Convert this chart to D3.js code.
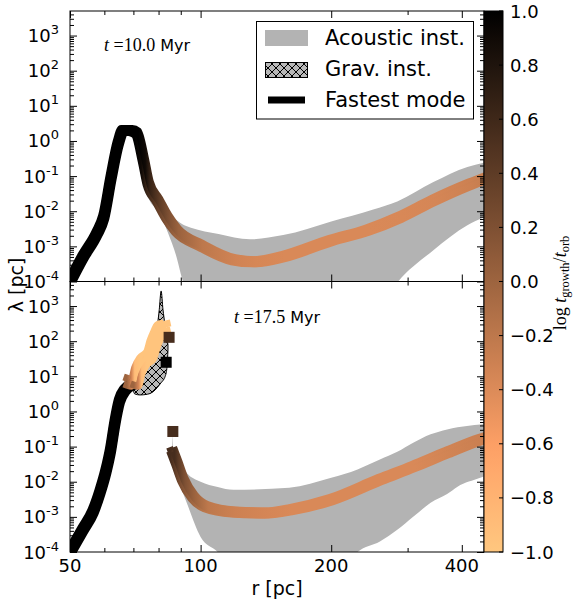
<!DOCTYPE html>
<html>
<head>
<meta charset="utf-8">
<script src="https://d3js.org/d3.v7.min.js"></script>
<style>
    body {
        margin: 0;
        background-color: white;
    }

    svg {
        display: block;
        font-family: "DejaVu Sans", sans-serif;
    }
</style>
</head>
<body>
<svg></svg>
<script>
    // x axis / colour bar ticks
    const xTicks = [50, 100, 200, 400];
    const xMinorTicks = [60, 70, 80, 90, 300];
    const cbTicks = [1.0, 0.8, 0.6, 0.4, 0.2, 0.0, -0.2, -0.4, -0.6, -0.8, -1.0];
    const yExponents = [-4, -3, -2, -1, 0, 1, 2, 3];

    // t = 10.0 Myr : fastest mode [r pc, log10 lambda, log tgrowth/torb]
    const modeTop = [
        [50, -4, 1.2], [53.5, -3.31, 1.2], [57.7, -2.63, 1.2], [59.8, -2.17, 1.2], [62.2, -1.03, 1.2],
        [64.6, -0.06, 1.2], [66.3, 0.3, 1.2], [68.9, 0.3, 1.2], [71.1, 0.23, 1.2], [73.8, -0.54, 0.9],
        [75.7, -1.2, 0.65], [79.6, -1.69, 0.4], [83.6, -2.17, 0.2], [88, -2.55, 0.02], [100, -2.97, -0.2],
        [119, -3.38, -0.32], [133, -3.44, -0.36], [155, -3.29, -0.38], [200, -2.83, -0.38], [242, -2.54, -0.38],
        [288, -2.17, -0.37], [344, -1.69, -0.35], [412, -1.26, -0.3], [449, -1.08, -0.25]
    ];
    // acoustic instability band [r, log10 lambda low, log10 lambda high]
    const acousticTop = [
        [75, -1.45, -1.4], [76, -1.65, -1.55], [80, -2.0, -1.75], [84, -2.6, -2.0], [88, -3.3, -2.25],
        [91, -4.0, -2.38], [95, -4.6, -2.47], [110, -5, -2.65], [130, -5, -2.8], [155, -5, -2.68],
        [200, -5, -2.29], [250, -5, -1.95], [284, -4.03, -1.72], [344, -3.11, -1.17], [412, -2.4, -0.74],
        [449, -2.18, -0.62]
    ];

    // t = 17.5 Myr
    const modeBotInner = [
        [50, -4, 1.2], [53.5, -3.37, 1.2], [56.5, -2.85, 1.2], [58.6, -2.3, 1.2], [60.5, -1.7, 1.2],
        [62, -1.1, 1.2], [63.5, -0.3, 1.2], [65, 0.3, 1.2], [67, 0.62, 1.2], [69.2, 0.76, 1.2]
    ];
    const modeBotClump = [
        [68.9, 0.85, 0.0], [70.6, 0.82, -0.35], [71.8, 1.15, -0.9], [73.8, 1.43, -0.97], [76.5, 1.6, -0.97],
        [77.9, 1.92, -0.97], [79.6, 2.2, -0.97], [80.8, 2.36, -0.97], [82.2, 2.4, -0.97]
    ];
    const modeBotOuter = [
        [86.3, -1.17, 0.55], [88.1, -1.46, 0.4], [91, -1.94, 0.2], [96.1, -2.43, 0.0], [103, -2.71, -0.2],
        [119, -2.86, -0.3], [142, -2.89, -0.35], [160.7, -2.8, -0.38], [200, -2.51, -0.38], [259, -1.94, -0.38],
        [309, -1.57, -0.38], [370, -1.17, -0.33], [441, -0.8, -0.28], [449, -0.77, -0.27]
    ];
    const modeBotSingles = [[84.6, 2.11, 0.55], [83.3, 1.4, 1.2], [86.3, -0.57, 0.55]];
    const acousticBot = [
        [85.9, -1.0, -0.6], [86.6, -1.66, -1.15], [89, -2.0, -1.4], [92.9, -2.6, -1.75], [100, -3.57, -2.0],
        [109.5, -4, -2.15], [119, -4.6, -2.23], [160, -5, -2.17], [200, -5, -1.89], [230, -4.0, -1.65],
        [259, -3.7, -1.37], [284, -3.37, -1.15], [309, -3.0, -0.89], [339, -2.6, -0.65], [370, -2.35, -0.51],
        [391, -2.14, -0.45], [441, -1.89, -0.37], [449, -1.85, -0.36]
    ];
    const gravBot = [
        [69.6, 0.7, 0.8], [70.5, 0.5, 0.95], [72.5, 0.47, 1.2], [75.4, 0.49, 1.55], [77.5, 0.55, 1.95],
        [79.6, 0.69, 2.5], [80.3, 0.75, 2.9], [81.1, 0.82, 3.43], [81.9, 0.88, 2.9], [82.7, 0.97, 2.5],
        [83.3, 1.1, 2.2], [83.7, 1.29, 2.05], [84.1, 1.75, 1.9]
    ];

    const legendLabels = ["Acoustic inst.", "Grav. inst.", "Fastest mode"];

    let width = 575;
    let height = 604;
    let L = 70, R = 484;
    let svg = d3.select("svg").attr("width", width).attr("height", height);
    let defs = svg.append("defs");

    // matplotlib copper_r, v in [-1, 1]
    function copper(v) {
        let t = Math.max(0, Math.min(1, (1 - v) / 2));
        return d3.rgb(255 * Math.min(1, t / 0.809524), 255 * 0.7812 * t, 255 * 0.4975 * t).toString();
    }

    let x = d3.scaleLog().domain([50, 450]).range([L, R]);

    // cross hatch
    let pat = defs.append("pattern").attr("id", "xhatch")
        .attr("patternUnits", "userSpaceOnUse").attr("width", 8).attr("height", 8);
    pat.append("rect").attr("width", 8).attr("height", 8).attr("fill", "#b8b8b8");
    pat.append("path").attr("d", "M0,0L8,8M8,0L0,8").attr("stroke", "black").attr("stroke-width", 1);

    let panels = [
        {id: 0, top: 11, bot: 281.5, time: "10.0", tx: 104, ty: 51,
            acoustic: acousticTop, grav: null, modes: [[modeTop, 2]], singles: []},
        {id: 1, top: 281.5, bot: 552, time: "17.5", tx: 234, ty: 323,
            acoustic: acousticBot, grav: gravBot,
            modes: [[modeBotInner, 2], [modeBotClump, 3.5], [modeBotOuter, 2]], singles: modeBotSingles}
    ];

    panels.forEach(p => {
        let y = d3.scaleLog().domain([1e-4, 5e3]).range([p.bot, p.top]);
        let ly = v => y(Math.pow(10, v));

        defs.append("clipPath").attr("id", "clip" + p.id)
            .append("rect").attr("x", L).attr("y", p.top).attr("width", R - L).attr("height", p.bot - p.top);
        let plot = svg.append("g").attr("clip-path", `url(#clip${p.id})`);

        // acoustic band
        plot.append("path").datum(p.acoustic)
            .attr("d", d3.area().x(d => x(d[0])).y0(d => ly(d[1])).y1(d => ly(d[2])).curve(d3.curveMonotoneX))
            .attr("fill", "#b3b3b3");

        // gravitational band
        if (p.grav) {
            plot.append("path").datum(p.grav)
                .attr("d", d3.area().x(d => x(d[0])).y0(d => ly(d[1])).y1(d => ly(d[2])).curve(d3.curveMonotoneX))
                .attr("fill", "url(#xhatch)")
                .attr("stroke", "black")
                .attr("stroke-width", 1);
        }

        // fastest mode, coloured by growth time (square markers -> offset strokes)
        let line = d3.line().x(d => x(d[0])).y(d => ly(d[1])).curve(d3.curveMonotoneX);
        p.modes.forEach((m, i) => {
            let run = m[0], off = m[1];
            let gid = `grad${p.id}_${i}`;
            let x0 = x(run[0][0]), x1 = x(run[run.length - 1][0]);
            let grad = defs.append("linearGradient").attr("id", gid)
                .attr("gradientUnits", "userSpaceOnUse")
                .attr("x1", x0).attr("x2", x1).attr("y1", 0).attr("y2", 0);
            run.forEach(d => grad.append("stop")
                .attr("offset", (x(d[0]) - x0) / (x1 - x0))
                .attr("stop-color", copper(d[2])));
            [[-off, -off], [off, -off], [-off, off], [off, off]].forEach(o => {
                plot.append("path")
                    .attr("d", line(run))
                    .attr("transform", `translate(${o[0]},${o[1]})`)
                    .attr("fill", "none")
                    .attr("stroke", `url(#${gid})`)
                    .attr("stroke-width", 7)
                    .attr("stroke-linecap", "square")
                    .attr("stroke-linejoin", "round");
            });
        });

        plot.selectAll(".single" + p.id)
            .data(p.singles)
            .join("rect")
            .attr("x", d => x(d[0]) - 5.5)
            .attr("y", d => ly(d[1]) - 5.5)
            .attr("width", 11)
            .attr("height", 11)
            .attr("fill", d => copper(d[2]));

        // ticks, pointing inwards on all four sides
        let yMajor = yExponents.map(e => Math.pow(10, e));
        let yMinor = [];
        yExponents.forEach(e => d3.range(2, 10).forEach(k => {
            let v = k * Math.pow(10, e);
            if (v < 5e3) yMinor.push(v);
        }));
        let tickG = svg.append("g");
        let addAxis = (axis, tx, ty) => tickG.append("g")
            .attr("transform", `translate(${tx},${ty})`)
            .call(axis)
            .call(g => g.select(".domain").remove())
            .call(g => g.selectAll("line").attr("stroke", "black"));
        addAxis(d3.axisLeft(y).tickValues(yMajor).tickSize(-7).tickFormat(""), L, 0);
        addAxis(d3.axisLeft(y).tickValues(yMinor).tickSize(-4).tickFormat(""), L, 0);
        addAxis(d3.axisRight(y).tickValues(yMajor).tickSize(-7).tickFormat(""), R, 0);
        addAxis(d3.axisRight(y).tickValues(yMinor).tickSize(-4).tickFormat(""), R, 0);
        addAxis(d3.axisBottom(x).tickValues(xTicks).tickSize(-7).tickFormat(""), 0, p.bot);
        addAxis(d3.axisBottom(x).tickValues(xMinorTicks).tickSize(-4).tickFormat(""), 0, p.bot);
        addAxis(d3.axisTop(x).tickValues(xTicks).tickSize(-7).tickFormat(""), 0, p.top);
        addAxis(d3.axisTop(x).tickValues(xMinorTicks).tickSize(-4).tickFormat(""), 0, p.top);

        // frame
        svg.append("rect")
            .attr("x", L).attr("y", p.top)
            .attr("width", R - L).attr("height", p.bot - p.top)
            .attr("fill", "none").attr("stroke", "black").attr("stroke-width", 1);

        // y tick labels 10^n
        yExponents.forEach(e => {
            let t = svg.append("text")
                .attr("x", 59)
                .attr("y", y(Math.pow(10, e)) + 6.5)
                .attr("text-anchor", "end")
                .attr("font-size", 18);
            t.append("tspan").text("10");
            t.append("tspan").attr("dy", -8).attr("font-size", 13).text(e < 0 ? "-" + (-e) : e);
        });

        // time label
        let tl = svg.append("text").attr("x", p.tx).attr("y", p.ty);
        tl.append("tspan").attr("font-family", "Liberation Serif, serif").attr("font-style", "italic")
            .attr("font-size", 18).text("t");
        tl.append("tspan").attr("font-family", "Liberation Serif, serif").attr("font-size", 18)
            .text(" =" + p.time);
        tl.append("tspan").attr("font-size", 16).text(" Myr");
    });

    // x tick labels (bottom panel)
    svg.selectAll(".xlabel")
        .data(xTicks)
        .join("text")
        .attr("x", d => x(d))
        .attr("y", 572)
        .attr("text-anchor", "middle")
        .attr("font-size", 18)
        .text(d => d);

    // axis labels
    svg.append("text")
        .attr("x", (L + R) / 2)
        .attr("y", 595)
        .attr("text-anchor", "middle")
        .attr("font-size", 19)
        .text("r [pc]");
    svg.append("text")
        .attr("transform", "translate(23,285) rotate(-90)")
        .attr("text-anchor", "middle")
        .attr("font-size", 19)
        .text("λ [pc]");

    // colour bar
    let cbX = R, cbW = 19, cbTop = 11, cbBot = 552;
    let cb = d3.scaleLinear().domain([-1, 1]).range([cbBot, cbTop]);
    let cbGrad = defs.append("linearGradient").attr("id", "cbgrad")
        .attr("x1", 0).attr("y1", 0).attr("x2", 0).attr("y2", 1);
    d3.range(0, 21).forEach(i => cbGrad.append("stop")
        .attr("offset", i / 20)
        .attr("stop-color", copper(1 - 2 * i / 20)));
    svg.append("rect")
        .attr("x", cbX).attr("y", cbTop)
        .attr("width", cbW).attr("height", cbBot - cbTop)
        .attr("fill", "url(#cbgrad)")
        .attr("stroke", "black").attr("stroke-width", 1);
    svg.selectAll(".cbtick")
        .data(cbTicks)
        .join("line")
        .attr("x1", cbX + cbW - 4).attr("x2", cbX + cbW)
        .attr("y1", d => cb(d)).attr("y2", d => cb(d))
        .attr("stroke", "black");
    svg.selectAll(".cblabel")
        .data(cbTicks)
        .join("text")
        .attr("x", 510)
        .attr("y", d => cb(d) + 6.5)
        .attr("font-size", 18)
        .text(d => (d < 0 ? "\u2212" : "") + Math.abs(d).toFixed(1));

    // colour bar label: log t_growth / t_orb
    let cbl = svg.append("text")
        .attr("transform", "translate(566,283) rotate(-90)")
        .attr("text-anchor", "middle")
        .attr("font-family", "Liberation Serif, serif")
        .attr("font-size", 18);
    cbl.append("tspan").text("log ");
    cbl.append("tspan").attr("font-style", "italic").text("t");
    cbl.append("tspan").attr("font-size", 12.5).attr("dy", 3).text("growth");
    cbl.append("tspan").attr("dy", -3).text("/");
    cbl.append("tspan").attr("font-style", "italic").text("t");
    cbl.append("tspan").attr("font-size", 12.5).attr("dy", 3).text("orb");

    // legend
    let lg = svg.append("g");
    lg.append("rect")
        .attr("x", 256.5).attr("y", 21.5).attr("width", 217).attr("height", 97.5)
        .attr("fill", "white").attr("stroke", "black").attr("stroke-width", 1);
    lg.append("rect").attr("x", 265).attr("y", 30).attr("width", 43).attr("height", 16).attr("fill", "#b3b3b3");
    lg.append("rect").attr("x", 265.5).attr("y", 62.5).attr("width", 42).attr("height", 15)
        .attr("fill", "url(#xhatch)").attr("stroke", "black");
    lg.append("line").attr("x1", 268).attr("x2", 305).attr("y1", 100).attr("y2", 100)
        .attr("stroke", "black").attr("stroke-width", 7);
    lg.selectAll(".lgtext")
        .data(legendLabels)
        .join("text")
        .attr("x", 325)
        .attr("y", (d, i) => 45 + i * 31)
        .attr("font-size", 21)
        .text(d => d);
</script>
</body>
</html>
